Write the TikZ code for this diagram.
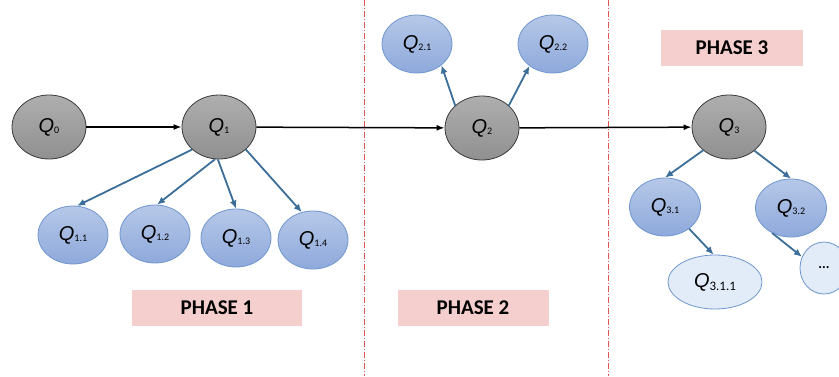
\documentclass[tikz,border=0pt]{standalone}
\usepackage{fontspec}
\setmainfont{Carlito}
\newfontfamily\qfont{Liberation Sans}
\usetikzlibrary{shapes.geometric,arrows.meta}
\definecolor{grayfill}{HTML}{A0A0A0}
\definecolor{graydraw}{HTML}{3A3A3A}
\definecolor{bluetop}{HTML}{B6C8E8}
\definecolor{bluebot}{HTML}{8EA9DB}
\definecolor{bluedraw}{HTML}{7096CF}
\definecolor{lightfill}{HTML}{E2ECF8}
\definecolor{arrowblue}{HTML}{3B6E98}
\definecolor{phasefill}{HTML}{F5CFCD}
\definecolor{sepred}{HTML}{E0534F}
\newcommand{\qlab}[1]{{\qfont\itshape\fontsize{20}{24}\selectfont Q}{\fontsize{10}{12}\selectfont\raisebox{-1pt}{#1}}}
\tikzset{
  gnode/.style={ellipse, draw=graydraw, line width=0.8pt, top color=grayfill!85!white, bottom color=grayfill!90!black, minimum width=74pt, minimum height=64pt, inner sep=0pt},
  bnode/.style={ellipse, draw=bluedraw, line width=0.8pt, top color=bluetop, bottom color=bluebot, minimum width=70pt, minimum height=58pt, inner sep=0pt},
  lnode/.style={ellipse, draw=bluedraw, line width=0.8pt, fill=lightfill, inner sep=0pt},
  mainarrow/.style={-{Latex[length=8pt,width=6pt]}, line width=1.5pt, black},
  barrow/.style={-{Latex[length=8pt,width=7pt]}, line width=1.8pt, arrowblue},
  phasebox/.style={fill=phasefill, minimum height=36pt, inner sep=0pt, font=\fontsize{21}{24}\selectfont\bfseries},
  sep/.style={sepred, line width=1pt, dash pattern=on 6pt off 2pt on 1pt off 2pt}
}
\begin{document}
\begin{tikzpicture}[x=1pt,y=-1pt]
\useasboundingbox (0,0) rectangle (839,376);
% separators
\coordinate (s1t) at (364,0); \coordinate (s1b) at (364,376);
\coordinate (s2t) at (608,0); \coordinate (s2b) at (608,376);
\draw[sep] (s1t) -- (s1b);
\draw[sep] (s2t) -- (s2b);
% phase boxes
\node[phasebox, minimum width=170pt] (p1) at (217,308) {PHASE 1};
\node[phasebox, minimum width=151pt] (p2) at (473,308) {PHASE 2};
\node[phasebox, minimum width=142pt] (p3) at (732,48) {PHASE 3};
% main nodes
\node[gnode] (q0) at (49,127) {\qlab{0}};
\node[gnode] (q1) at (219,127) {\qlab{1}};
\node[gnode] (q2) at (482,128) {\qlab{2}};
\node[gnode] (q3) at (729,127) {\qlab{3}};
% phase 1 children
\node[bnode] (q11) at (73,235) {\qlab{1.1}};
\node[bnode] (q12) at (155,234) {\qlab{1.2}};
\node[bnode] (q13) at (236,238) {\qlab{1.3}};
\node[bnode] (q14) at (313,240) {\qlab{1.4}};
% phase 2 children
\node[bnode] (q21) at (417,44) {\qlab{2.1}};
\node[bnode] (q22) at (553,44) {\qlab{2.2}};
% phase 3 children
\node[bnode, minimum width=71pt] (q31) at (665,207) {\qlab{3.1}};
\node[bnode, minimum width=71pt] (q32) at (791,208) {\qlab{3.2}};
\node[lnode, minimum width=94pt, minimum height=54pt] (q311) at (715,282) {{\qfont\itshape\fontsize{20}{24}\selectfont Q}{\fontsize{13}{15}\selectfont\raisebox{-3pt}{3.1.1}}};
\node[lnode, minimum width=48pt, minimum height=52pt] (qdots) at (824,268) {\fontsize{14}{16}\selectfont\bfseries ...};
% main arrows
\draw[mainarrow] (q0) -- (q1);
\draw[mainarrow] (q1) -- (q2);
\draw[mainarrow] (q2) -- (q3);
% blue arrows
\draw[barrow] (q1.220) -- (q11.82);
\draw[barrow] (q1.263) -- (q12.86);
\draw[barrow] (q1.268) -- (q13.90);
\draw[barrow] (q1.320) -- (q14.112);
\draw[barrow] (q2.140) -- (q21.-41);
\draw[barrow] (q2.40) -- (q22.223);
\draw[barrow] (q3.222) -- (q31.90);
\draw[barrow] (q3.317) -- (q32.90);
\draw[barrow] (q31.318) -- (q311.93);
\draw[barrow] (q32.233) -- (qdots.153);
\end{tikzpicture}
\end{document}
